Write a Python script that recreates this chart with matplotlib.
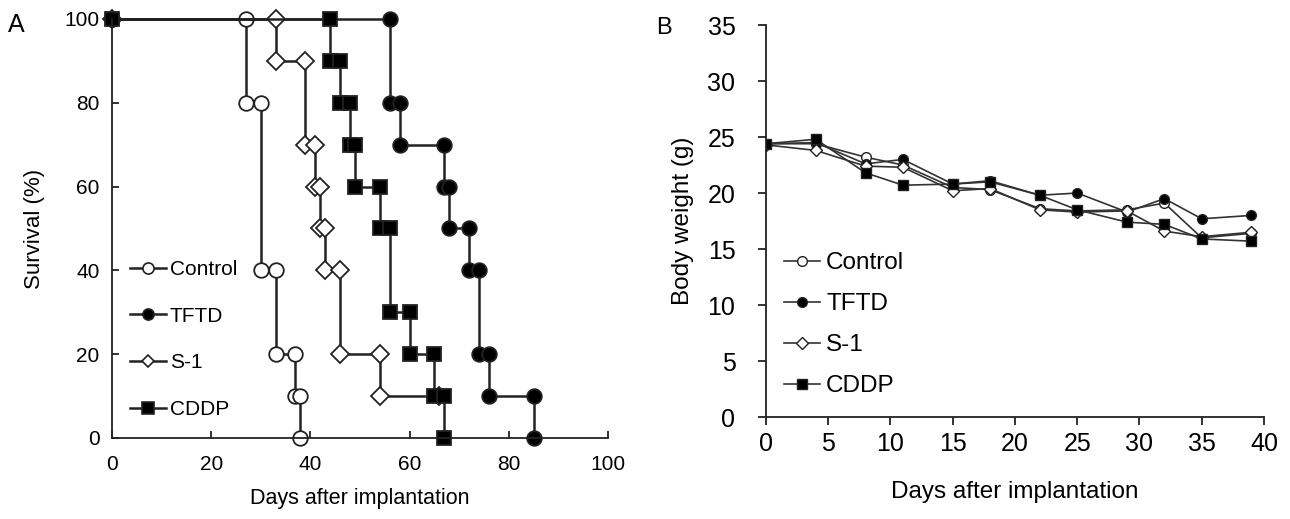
import matplotlib.pyplot as plt
from matplotlib.lines import Line2D

plt.rcParams['font.family'] = ['Liberation Sans', 'DejaVu Sans']

# Panel A: Kaplan-Meier survival (event days and survival % after each event)
control_days = [0, 27, 30, 33, 37, 38]
control_surv = [100, 80, 40, 20, 10, 0]
tftd_days = [0, 56, 58, 67, 68, 72, 74, 76, 85]
tftd_surv = [100, 80, 70, 60, 50, 40, 20, 10, 0]
s1_days = [0, 33, 39, 41, 42, 43, 46, 54]
s1_surv = [100, 90, 70, 60, 50, 40, 20, 10]
s1_last_day = 66
cddp_days = [0, 44, 46, 48, 49, 54, 56, 60, 65, 67]
cddp_surv = [100, 90, 80, 70, 60, 50, 30, 20, 10, 0]

# Panel B: body weight (g)
bw_days = [0, 4, 8, 11, 15, 18, 22, 25, 29, 32, 35, 39]
bw_control = [24.4, 24.4, 23.2, 22.5, 20.5, 20.3, 18.6, 18.4, 18.5, 19.1, 16.0, 16.4]
bw_tftd = [24.4, 24.5, 22.6, 23.0, 20.8, 21.1, 19.8, 20.0, 18.3, 19.5, 17.7, 18.0]
bw_s1 = [24.3, 23.8, 22.4, 22.3, 20.2, 20.4, 18.5, 18.3, 18.4, 16.6, 16.1, 16.5]
bw_cddp = [24.4, 24.8, 21.8, 20.7, 20.8, 21.0, 19.8, 18.5, 17.4, 17.2, 15.9, 15.7]

labels = ['Control', 'TFTD', 'S-1', 'CDDP']
styles = [
    dict(marker='o', mfc='white'),
    dict(marker='o', mfc='black'),
    dict(marker='D', mfc='white'),
    dict(marker='s', mfc='black'),
]

ink = '#222222'


def km_path(days, surv, last=None):
    xs, ys = [days[0]], [surv[0]]
    for i in range(1, len(days)):
        xs += [days[i], days[i]]
        ys += [surv[i - 1], surv[i]]
    if last is not None:
        xs.append(last)
        ys.append(surv[-1])
    return xs, ys


fig = plt.figure(figsize=(12.9, 5.19), dpi=100)
axA = fig.add_axes([0.0868, 0.1561, 0.3845, 0.8073])
axB = fig.add_axes([0.5938, 0.1965, 0.386, 0.7553])

km_data = [(control_days, control_surv, None), (tftd_days, tftd_surv, None),
           (s1_days, s1_surv, s1_last_day), (cddp_days, cddp_surv, None)]
msA = [10.5, 10.5, 9, 9.5]
for (d, s, last), st, ms in zip(km_data, styles, msA):
    xs, ys = km_path(d, s, last)
    axA.plot(xs, ys, color=ink, lw=1.8, marker=st['marker'], mfc=st['mfc'],
             mec=ink, mew=1.3, ms=ms, clip_on=False)

axA.set_xlim(0, 100)
axA.set_ylim(0, 100)
axA.set_xticks(range(0, 101, 20))
axA.set_yticks(range(0, 101, 20))
axA.tick_params(direction='in', length=5, width=1.3, color=ink, labelsize=15)
axA.tick_params(axis='x', pad=12)
axA.tick_params(axis='y', pad=9)
axA.set_xlabel('Days after implantation', fontsize=15.5, labelpad=10)
axA.set_ylabel('Survival (%)', fontsize=16, labelpad=14)

bw_series = [bw_control, bw_tftd, bw_s1, bw_cddp]
for vals, st in zip(bw_series, styles):
    axB.plot(bw_days, vals, color='#333333', lw=1.2, marker=st['marker'], mfc=st['mfc'],
             mec='#222222', mew=1.0, ms=7 if st['marker'] != 'D' else 6.3)

axB.set_xlim(0, 40)
axB.set_ylim(0, 35)
axB.set_xticks(range(0, 41, 5))
axB.set_yticks(range(0, 36, 5))
axB.tick_params(direction='out', length=6, width=1.3, color=ink, labelsize=18)
axB.tick_params(axis='x', pad=5)
axB.tick_params(axis='y', pad=16)
axB.set_xlabel('Days after implantation', fontsize=17.5, labelpad=18)
axB.set_ylabel('Body weight (g)', fontsize=17.5, labelpad=10)

for ax in (axA, axB):
    for side in ('top', 'right'):
        ax.spines[side].set_visible(False)
    for side in ('left', 'bottom'):
        ax.spines[side].set_linewidth(1.3)
        ax.spines[side].set_color(ink)

handlesA = [Line2D([], [], color=ink, lw=1.8, marker=st['marker'], mfc=st['mfc'],
                   mec=ink, mew=1.2, ms=8 if st['marker'] != 'D' else 6.5) for st in styles]
axA.legend(handlesA, labels, loc='upper left', bbox_to_anchor=(0.02, 0.445), frameon=False,
           fontsize=15, handlelength=1.7, handletextpad=0.2, labelspacing=1.33, borderaxespad=0)

handlesB = [Line2D([], [], color='#333333', lw=1.2, marker=st['marker'], mfc=st['mfc'],
                   mec='#222222', mew=1.0, ms=7 if st['marker'] != 'D' else 6) for st in styles]
axB.legend(handlesB, labels, loc='upper left', bbox_to_anchor=(0.016, 0.445), frameon=False,
           fontsize=17.5, handlelength=1.5, handletextpad=0.25, labelspacing=0.78, borderaxespad=0)

fig.text(0.006, 0.975, 'A', fontsize=18, va='top')
fig.text(0.509, 0.968, 'B', fontsize=17, va='top')

fig.savefig('out.png', dpi=100)
